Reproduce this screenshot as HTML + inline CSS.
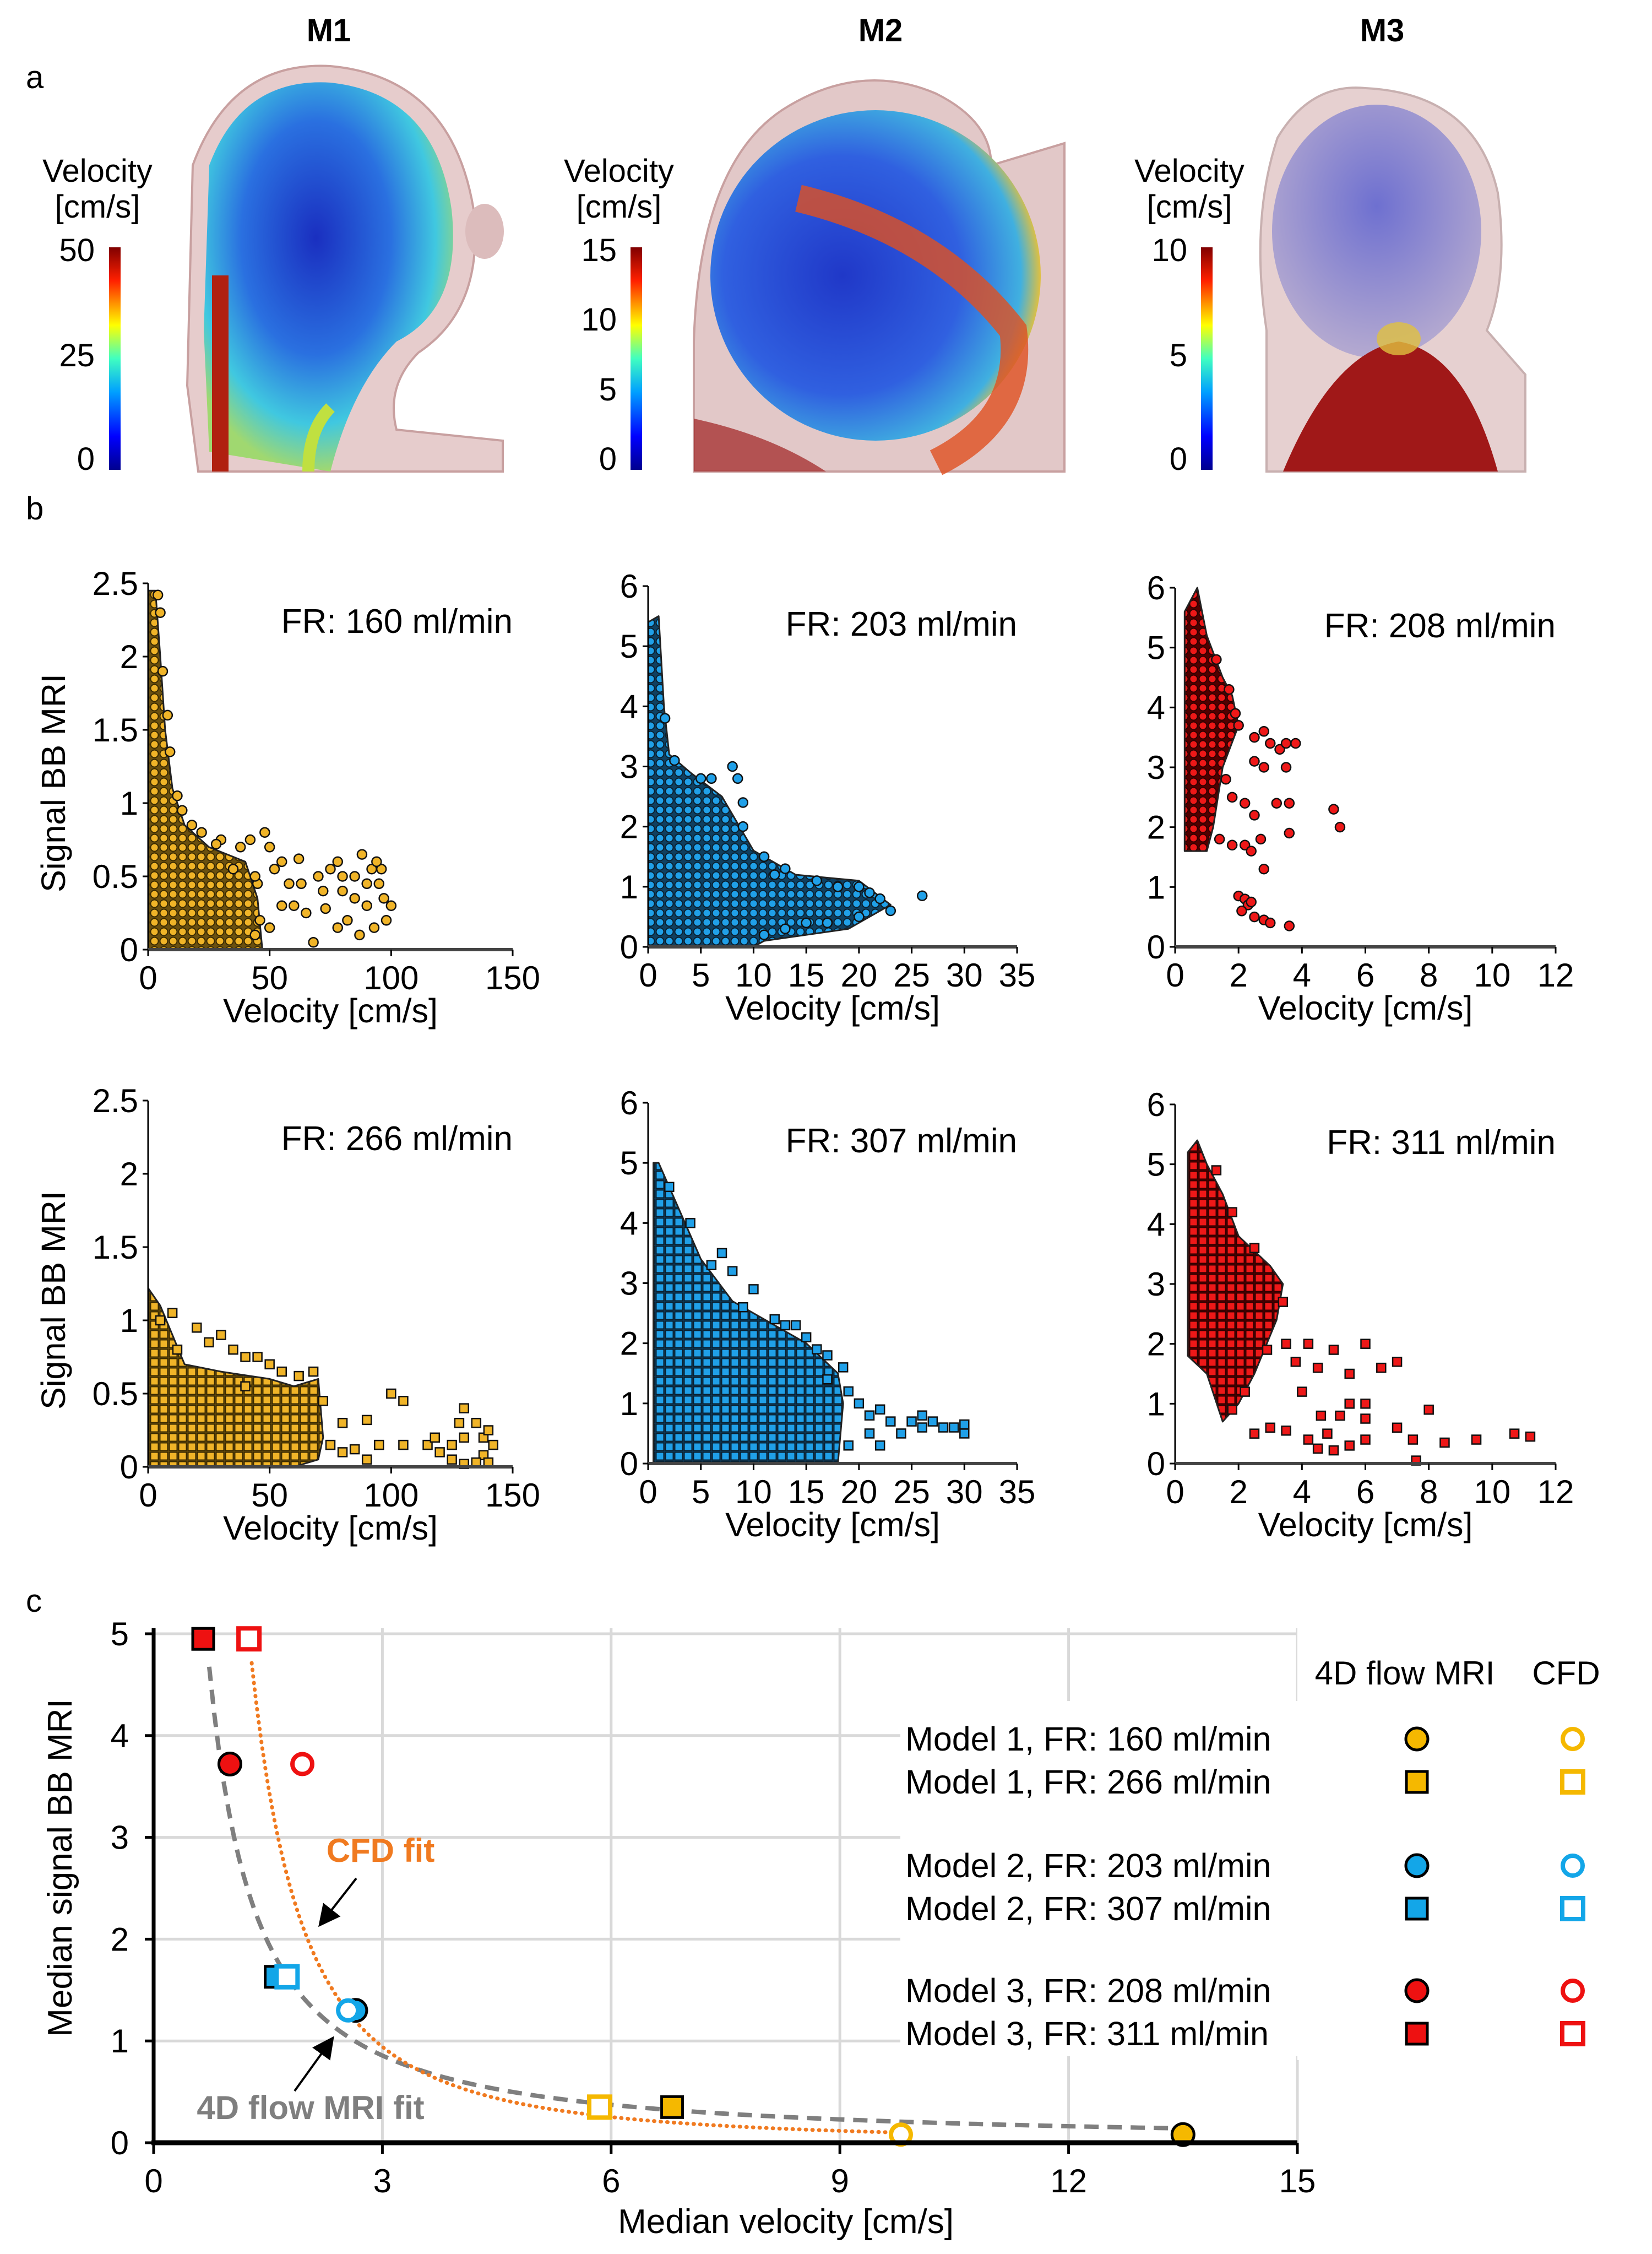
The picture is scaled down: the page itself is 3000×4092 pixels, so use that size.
<!DOCTYPE html>
<html><head><meta charset="utf-8"><style>
html,body{margin:0;padding:0;background:#fff;}
svg{display:block;font-family:"Liberation Sans",Arial,sans-serif;}
</style></head><body>
<svg id="fig" width="3000" height="4092" viewBox="0 0 3000 4092" xmlns="http://www.w3.org/2000/svg">
<defs>
<linearGradient id="jet" x1="0" y1="1" x2="0" y2="0">
<stop offset="0" stop-color="#00008f"/><stop offset="0.15" stop-color="#0000ff"/><stop offset="0.35" stop-color="#00a0ff"/><stop offset="0.5" stop-color="#40ffc0"/><stop offset="0.65" stop-color="#ffff00"/><stop offset="0.85" stop-color="#ff2000"/><stop offset="1" stop-color="#800000"/>
</linearGradient>
<radialGradient id="m1g" cx="0.45" cy="0.4" r="0.6"><stop offset="0" stop-color="#1a2fc0"/><stop offset="0.5" stop-color="#2a70e0"/><stop offset="0.8" stop-color="#40c8e0"/><stop offset="1" stop-color="#a0d870"/></radialGradient>
<radialGradient id="m2g" cx="0.4" cy="0.5" r="0.6"><stop offset="0" stop-color="#2038c8"/><stop offset="0.6" stop-color="#3060e0"/><stop offset="0.9" stop-color="#40b0e0"/><stop offset="1" stop-color="#e0c040"/></radialGradient>
<radialGradient id="m3g" cx="0.5" cy="0.4" r="0.6"><stop offset="0" stop-color="#5058d0"/><stop offset="1" stop-color="#a8a0d0"/></radialGradient>
<pattern id="patY" width="17" height="17" patternUnits="userSpaceOnUse"><rect width="17" height="17" fill="#6a5010"/><circle cx="8.5" cy="8.5" r="7" fill="#f0b428" stroke="#3a2a00" stroke-width="2"/></pattern>
<pattern id="patB" width="17" height="17" patternUnits="userSpaceOnUse"><rect width="17" height="17" fill="#104060"/><circle cx="8.5" cy="8.5" r="7" fill="#20a0e8" stroke="#0a2030" stroke-width="2"/></pattern>
<pattern id="patR" width="17" height="17" patternUnits="userSpaceOnUse"><rect width="17" height="17" fill="#500000"/><circle cx="8.5" cy="8.5" r="7" fill="#ee1818" stroke="#300000" stroke-width="2"/></pattern>
<pattern id="patYs" width="17" height="17" patternUnits="userSpaceOnUse"><rect width="17" height="17" fill="#6a5010"/><rect x="1.5" y="1.5" width="14" height="14" fill="#f0b428" stroke="#3a2a00" stroke-width="2"/></pattern>
<pattern id="patBs" width="17" height="17" patternUnits="userSpaceOnUse"><rect width="17" height="17" fill="#104060"/><rect x="1.5" y="1.5" width="14" height="14" fill="#20a0e8" stroke="#0a2030" stroke-width="2"/></pattern>
<pattern id="patRs" width="17" height="17" patternUnits="userSpaceOnUse"><rect width="17" height="17" fill="#500000"/><rect x="1.5" y="1.5" width="14" height="14" fill="#ee1818" stroke="#300000" stroke-width="2"/></pattern>
<marker id="arr" markerWidth="10" markerHeight="10" refX="8" refY="5" orient="auto" markerUnits="strokeWidth"><path d="M0,0 L10,5 L0,10 z" fill="#000"/></marker>
</defs>

<!-- Panel a -->
<g>
<text x="47" y="160" font-size="58">a</text>
<text x="597" y="75" font-size="58" font-weight="bold" text-anchor="middle">M1</text>
<text x="1599" y="75" font-size="58" font-weight="bold" text-anchor="middle">M2</text>
<text x="2510" y="75" font-size="58" font-weight="bold" text-anchor="middle">M3</text>

<g>
<path d="M360,856 L340,700 L350,300 Q420,110 600,120 Q820,140 860,380 Q880,560 760,640 Q700,700 720,780 L913,800 L913,856 Z" fill="#e6cccc" stroke="#c8a0a0" stroke-width="4"/>
<ellipse cx="880" cy="420" rx="35" ry="50" fill="#dcbcbc"/>
<path d="M380,820 L370,600 L380,300 Q440,140 600,150 Q790,170 820,380 Q840,560 720,620 Q640,700 600,856 Z" fill="url(#m1g)"/>
<path d="M400,856 L400,500" stroke="#b02010" stroke-width="30"/>
<path d="M560,856 Q560,780 600,740" stroke="#c0e040" stroke-width="22" fill="none"/>
</g>
<g>
<path d="M1260,856 L1260,620 Q1270,300 1420,200 Q1560,110 1700,170 Q1800,220 1800,300 L1933,260 L1933,856 Z" fill="#e2c8c8" stroke="#c8a0a0" stroke-width="4"/>
<ellipse cx="1590" cy="500" rx="300" ry="300" fill="url(#m2g)"/>
<path d="M1450,360 Q1700,420 1840,600 Q1860,760 1700,840" stroke="#e05020" stroke-width="50" fill="none" opacity="0.8"/>
<path d="M1260,856 L1260,760 Q1400,790 1500,856 Z" fill="#a02020" opacity="0.7"/>
</g>
<g>
<path d="M2300,856 L2300,600 Q2270,400 2320,250 Q2380,150 2480,160 Q2680,170 2720,350 Q2740,500 2700,600 L2770,680 L2770,856 Z" fill="#e6d0d0" stroke="#c8b0b0" stroke-width="4"/>
<ellipse cx="2500" cy="420" rx="190" ry="230" fill="url(#m3g)" opacity="0.8"/>
<path d="M2330,856 Q2420,640 2540,620 Q2660,640 2720,856 Z" fill="#a01818"/>
<ellipse cx="2540" cy="615" rx="40" ry="30" fill="#e0c040" opacity="0.8"/>
</g>

<g>
<text x="177" y="330" font-size="58" text-anchor="middle">Velocity</text>
<text x="177" y="395" font-size="58" text-anchor="middle">[cm/s]</text>
<rect x="198" y="449" width="21" height="404" fill="url(#jet)"/>
<text x="172" y="474" font-size="58" text-anchor="end">50</text>
<text x="172" y="665" font-size="58" text-anchor="end">25</text>
<text x="172" y="853" font-size="58" text-anchor="end">0</text>
</g>
<g>
<text x="1124" y="330" font-size="58" text-anchor="middle">Velocity</text>
<text x="1124" y="395" font-size="58" text-anchor="middle">[cm/s]</text>
<rect x="1145" y="449" width="21" height="404" fill="url(#jet)"/>
<text x="1120" y="474" font-size="58" text-anchor="end">15</text>
<text x="1120" y="600" font-size="58" text-anchor="end">10</text>
<text x="1120" y="727" font-size="58" text-anchor="end">5</text>
<text x="1120" y="853" font-size="58" text-anchor="end">0</text>
</g>
<g>
<text x="2160" y="330" font-size="58" text-anchor="middle">Velocity</text>
<text x="2160" y="395" font-size="58" text-anchor="middle">[cm/s]</text>
<rect x="2181" y="449" width="21" height="404" fill="url(#jet)"/>
<text x="2156" y="474" font-size="58" text-anchor="end">10</text>
<text x="2156" y="665" font-size="58" text-anchor="end">5</text>
<text x="2156" y="853" font-size="58" text-anchor="end">0</text>
</g>
</g>

<text x="47" y="943" font-size="58">b</text>
<g id="scatters"></g>

<text x="47" y="2926" font-size="58">c</text>
<g id="panelc"></g>
</svg>
<script>
// ---------- Panel b data ----------
const p1Env = [[0,0],[0,2.45],[3,2.45],[5,2.0],[7,1.5],[10,1.1],[15,0.85],[25,0.7],[40,0.6],[45,0.35],[47,0]];
const p1Pts = [[50,0.7],[48,0.8],[52,0.55],[55,0.6],[58,0.45],[62,0.62],[60,0.3],[65,0.25],[68,0.05],[70,0.5],[72,0.4],[75,0.55],[78,0.6],[80,0.4],[82,0.2],[85,0.5],[88,0.65],[90,0.3],[92,0.55],[95,0.45],[97,0.35],[100,0.3],[98,0.2],[93,0.15],[87,0.1],[78,0.15],[73,0.28],[96,0.55],[85,0.35],[90,0.45],[42,0.75],[38,0.7],[35,0.55],[30,0.75],[55,0.3],[50,0.15],[45,0.45],[63,0.45],[80,0.5],[94,0.6],[5,2.3],[4,2.42],[6,1.9],[8,1.6],[9,1.35],[12,1.05],[14,0.95],[18,0.85],[22,0.8],[28,0.72],[44,0.5],[46,0.2],[44,0.1]];
const p2Env = [[0,0],[0,5.4],[1,5.5],[1.5,4],[2,3.2],[4,2.9],[7,2.5],[10,1.6],[14,1.2],[20,1.1],[23,0.7],[19,0.3],[11,0.1],[10,0]];
const p2Pts = [[8,3.0],[8.5,2.8],[12,1.2],[16,1.1],[18,1.0],[20,1.0],[21,0.9],[22,0.8],[26,0.85],[23,0.6],[17,0.4],[20,0.5],[9,2.4],[6,2.8],[1.6,3.8],[2.5,3.1],[5,2.8],[9,2.0],[11,1.5],[13,1.3],[15,0.4],[13,0.3],[11,0.2]];
const p3Env = [[0.3,1.6],[0.3,5.6],[0.7,6.0],[1.0,5.2],[1.5,4.5],[1.8,4.2],[2,3.7],[1.5,3.0],[1.2,2.0],[1.0,1.6]];
const p3Pts = [[2.0,3.7],[2.5,3.5],[2.8,3.6],[3.0,3.4],[3.3,3.3],[3.5,3.4],[3.8,3.4],[2.5,3.1],[2.8,3.0],[3.5,3.0],[1.8,2.5],[2.2,2.4],[3.2,2.4],[3.6,2.4],[5.0,2.3],[5.2,2.0],[3.6,1.9],[2.5,2.2],[2.2,1.7],[2.7,1.8],[2.4,1.6],[2.8,1.3],[1.8,1.7],[2.0,0.85],[2.2,0.8],[2.3,0.7],[2.4,0.75],[2.5,0.5],[2.8,0.45],[3.0,0.4],[3.6,0.35],[2.1,0.6],[1.7,4.3],[1.9,3.9],[1.6,2.8],[1.4,1.8],[1.3,4.8]];
const p4Env = [[0,0],[0,1.22],[5,1.1],[10,0.9],[15,0.7],[30,0.65],[50,0.6],[60,0.55],[70,0.6],[72,0.2],[70,0.05],[60,0]];
const p4Pts = [[10,1.05],[20,0.95],[30,0.9],[35,0.8],[40,0.75],[45,0.75],[50,0.7],[55,0.65],[25,0.85],[40,0.55],[75,0.15],[80,0.1],[85,0.12],[90,0.05],[100,0.5],[105,0.45],[80,0.3],[90,0.32],[95,0.15],[105,0.15],[115,0.15],[120,0.1],[125,0.15],[128,0.3],[130,0.4],[130,0.2],[135,0.3],[138,0.2],[140,0.25],[138,0.08],[142,0.15],[130,0.02],[135,0.03],[140,0.03],[125,0.05],[118,0.2],[62,0.62],[68,0.65],[72,0.45],[12,0.8],[5,1.0]];
const p5Env = [[0.5,0],[0.5,5.0],[1,5],[3,4.2],[5,3.4],[8,2.7],[12,2.3],[15,2.0],[18,1.5],[18.5,1],[18,0]];
const p5Pts = [[7,3.5],[8,3.2],[10,2.9],[12,2.4],[13,2.3],[15,2.1],[16,1.9],[17,1.4],[18.5,1.6],[20,1.0],[21,0.8],[22,0.9],[23,0.7],[24,0.5],[25,0.7],[26,0.6],[27,0.7],[28,0.6],[29,0.6],[30,0.65],[30,0.5],[26,0.8],[21,0.5],[22,0.3],[2,4.6],[4,4.0],[6,3.3],[9,2.6],[14,2.3],[17,1.8],[19,1.2],[19,0.3]];
const p6Env = [[0.4,1.8],[0.4,5.2],[0.7,5.4],[1.0,5.0],[1.5,4.5],[2,3.8],[3,3.3],[3.4,3],[3.2,2.4],[2.5,1.5],[2,1.0],[1.5,0.7],[1.0,1.5]];
const p6Pts = [[3.5,2.0],[4.2,2.0],[5,1.9],[6,2.0],[3.8,1.7],[4.5,1.6],[5.5,1.5],[6.5,1.6],[7,1.7],[4.0,1.2],[5.5,1.0],[6.0,1.0],[4.6,0.8],[5.2,0.8],[6,0.75],[7,0.6],[8,0.9],[6,0.4],[7.5,0.4],[8.5,0.35],[9.5,0.4],[10.7,0.5],[11.2,0.45],[4.5,0.25],[5.0,0.22],[7.6,0.05],[2.5,0.5],[3,0.6],[3.5,0.55],[4.2,0.4],[4.8,0.5],[5.5,0.3],[1.3,4.9],[1.8,4.2],[2.5,3.6],[3.4,2.7],[2.9,1.9],[2.2,1.2],[1.8,0.9]];
const frLabels = ["FR: 160 ml/min","FR: 203 ml/min","FR: 208 ml/min","FR: 266 ml/min","FR: 307 ml/min","FR: 311 ml/min"];
const xTicks1 = [0,50,100,150], xTicks2=[0,5,10,15,20,25,30,35], xTicks3=[0,2,4,6,8,10,12];
const yTicks1 = [0,0.5,1,1.5,2,2.5], yTicks2=[0,1,2,3,4,5,6];

// ---------- Panel c data ----------
const cMriX = [13.5,6.8,2.65,1.6,1.0,0.65];
const cMriY = [0.08,0.35,1.3,1.63,3.72,4.95];
const cCfdX = [9.8,5.85,2.55,1.75,1.95,1.25];
const cCfdY = [0.08,0.35,1.3,1.63,3.72,4.95];
const cShapes = ["circle","square","circle","square","circle","square"];
const cColors = ["#f5b800","#f5b800","#13a6e8","#13a6e8","#ee1111","#ee1111"];
const legendLabels = ["Model 1, FR: 160 ml/min","Model 1, FR: 266 ml/min","Model 2, FR: 203 ml/min","Model 2, FR: 307 ml/min","Model 3, FR: 208 ml/min","Model 3, FR: 311 ml/min"];
const mriFit = [3.2,-1.2];   // a, b  (y = a x^b)
const cfdFit = [7.6,-1.9];
const cXTicks = [0,3,6,9,12,15], cYTicks=[0,1,2,3,4,5];

const NS="http://www.w3.org/2000/svg";
function mk(tag, attrs, parent){const e=document.createElementNS(NS,tag);for(const k in attrs)e.setAttribute(k,attrs[k]);parent.appendChild(e);return e;}

const sc = document.getElementById('scatters');
const panels = [
 {env:p1Env,pts:p1Pts,x0:269,x1:931,y0:1724,y1:1059,xmax:150,ymax:2.5,xt:xTicks1,yt:yTicks1,fill:'#f0b428',pat:'patY',sq:false,fr:0,ytitle:true},
 {env:p2Env,pts:p2Pts,x0:1177,x1:1847,y0:1719,y1:1064,xmax:35,ymax:6,xt:xTicks2,yt:yTicks2,fill:'#20a0e8',pat:'patB',sq:false,fr:1},
 {env:p3Env,pts:p3Pts,x0:2134,x1:2825,y0:1719,y1:1067,xmax:12,ymax:6,xt:xTicks3,yt:yTicks2,fill:'#ee1818',pat:'patR',sq:false,fr:2},
 {env:p4Env,pts:p4Pts,x0:269,x1:931,y0:2663,y1:1998,xmax:150,ymax:2.5,xt:xTicks1,yt:yTicks1,fill:'#f0b428',pat:'patYs',sq:true,fr:3,ytitle:true},
 {env:p5Env,pts:p5Pts,x0:1177,x1:1847,y0:2657,y1:2002,xmax:35,ymax:6,xt:xTicks2,yt:yTicks2,fill:'#20a0e8',pat:'patBs',sq:true,fr:4},
 {env:p6Env,pts:p6Pts,x0:2134,x1:2825,y0:2657,y1:2005,xmax:12,ymax:6,xt:xTicks3,yt:yTicks2,fill:'#ee1818',pat:'patRs',sq:true,fr:5}
];
panels.forEach((p,i)=>{
  const g=mk('g',{},sc);
  
  
  const X=v=>p.x0+(p.x1-p.x0)*v/p.xmax, Y=v=>p.y0-(p.y0-p.y1)*v/p.ymax;
  const poly=mk('polygon',{points:p.env.map(q=>X(q[0])+','+Y(q[1])).join(' '),fill:'url(#'+p.pat+')',stroke:'#222','stroke-width':3,'stroke-linejoin':'round'},g);
  
  
  p.pts.forEach(q=>{
    let m;
    if(p.sq) m=mk('rect',{x:X(q[0])-8,y:Y(q[1])-8,width:16,height:16,fill:p.fill,stroke:'#111','stroke-width':2.5},g);
    else m=mk('circle',{cx:X(q[0]),cy:Y(q[1]),r:8.5,fill:p.fill,stroke:'#111','stroke-width':2.5},g);
    
    
  });
  const ya=mk('line',{x1:p.x0,y1:p.y0,x2:p.x0,y2:p.y1,stroke:'#000','stroke-width':3},g);
  
  
  const xa=mk('line',{x1:p.x0,y1:p.y0,x2:p.x1,y2:p.y0,stroke:'#444','stroke-width':6},g);
  
  
  p.xt.forEach(t=>{
    mk('line',{x1:X(t),y1:p.y0,x2:X(t),y2:p.y0+12,stroke:'#000','stroke-width':3},g);
    const tx=mk('text',{x:X(t),y:p.y0+72,'font-size':60,'text-anchor':'middle'},g);tx.textContent=t;
    
    
  });
  p.yt.forEach(t=>{
    mk('line',{x1:p.x0-10,y1:Y(t),x2:p.x0,y2:Y(t),stroke:'#000','stroke-width':3},g);
    const tx=mk('text',{x:p.x0-18,y:Y(t)+21,'font-size':60,'text-anchor':'end'},g);tx.textContent=t;
    
    
  });
  const xt=mk('text',{x:(p.x0+p.x1)/2,y:p.y0+132,'font-size':61,'text-anchor':'middle'},g);xt.textContent='Velocity [cm/s]';
  
  
  const fr=mk('text',{x:p.x1,y:p.y1+90,'font-size':62,'text-anchor':'end'},g);fr.textContent=frLabels[p.fr];
  
  
  if(p.ytitle){
    const cy=(p.y0+p.y1)/2+30;
    const yt=mk('text',{x:0,y:0,'font-size':61,'text-anchor':'middle',transform:'translate(118,'+cy+') rotate(-90)'},g);yt.textContent='Signal BB MRI';
    
    
  }
});

// ---------- Panel c ----------
const pc=document.getElementById('panelc');
const cx0=279,cx1=2356,cy0=3890,cy1=2966;
const CX=v=>cx0+(cx1-cx0)*v/15, CY=v=>cy0-(cy0-cy1)*v/5;
cXTicks.forEach(t=>{ if(t>0){const l=mk('line',{x1:CX(t),y1:cy0,x2:CX(t),y2:cy1-10,stroke:'#d9d9d9','stroke-width':5},pc);
  
  }});
cYTicks.forEach(t=>{ if(t>0){const l=mk('line',{x1:cx0,y1:CY(t),x2:cx1,y2:CY(t),stroke:'#d9d9d9','stroke-width':5},pc);
  
  }});
const lbg=mk('rect',{x:1635,y:3088,width:1365,height:645,fill:'#fff'},pc);


mk('rect',{x:2356,y:2940,width:644,height:800,fill:'#fff'},pc);
function curve(fit,xs,xe){const d=[];for(let k=0;k<=200;k++){const x=xs+(xe-xs)*k/200;let y=fit[0]*Math.pow(x,fit[1]);if(y>5)continue;d.push((d.length?'L':'M')+CX(x).toFixed(1)+','+CY(y).toFixed(1));}return d.join(' ');}
const f1=mk('path',{d:curve(mriFit,0.6,13.5),fill:'none',stroke:'#7f7f7f','stroke-width':8,'stroke-dasharray':'26,16'},pc);


const f2=mk('path',{d:curve(cfdFit,1.2,9.8),fill:'none',stroke:'#f07a20','stroke-width':7,'stroke-dasharray':'1,11','stroke-linecap':'round'},pc);


function marker(shape,x,y,col,filled,parent){
  let m;
  if(shape==='circle') m=mk('circle',{cx:x,cy:y,r:filled?20:18,fill:filled?col:'#fff',stroke:filled?'#000':col,'stroke-width':filled?5:8},parent);
  else m=mk('rect',{x:x-19,y:y-19,width:38,height:38,fill:filled?col:'#fff',stroke:filled?'#000':col,'stroke-width':filled?5:8},parent);
  return m;
}
cMriX.forEach((v,i)=>{const m=marker(cShapes[i],CX(v),CY(cMriY[i]),cColors[i],true,pc);
  
  });
cCfdX.forEach((v,i)=>{const m=marker(cShapes[i],CX(v),CY(cCfdY[i]),cColors[i],false,pc);
  
  });
const cya=mk('line',{x1:cx0,y1:cy0+4,x2:cx0,y2:cy1-10,stroke:'#000','stroke-width':7},pc);


const cxa=mk('line',{x1:cx0-4,y1:cy0,x2:cx1,y2:cy0,stroke:'#000','stroke-width':9},pc);


cXTicks.forEach(t=>{mk('line',{x1:CX(t),y1:cy0,x2:CX(t),y2:cy0+20,stroke:'#000','stroke-width':5},pc);
  const tx=mk('text',{x:CX(t),y:cy0+90,'font-size':60,'text-anchor':'middle'},pc);tx.textContent=t;
  
  });
cYTicks.forEach(t=>{mk('line',{x1:cx0-16,y1:CY(t),x2:cx0,y2:CY(t),stroke:'#000','stroke-width':5},pc);
  const tx=mk('text',{x:cx0-45,y:CY(t)+21,'font-size':60,'text-anchor':'end'},pc);tx.textContent=t;
  
  });
const cxt=mk('text',{x:1427,y:4054,'font-size':62,'text-anchor':'middle'},pc);cxt.textContent='Median velocity [cm/s]';


const cyt=mk('text',{x:0,y:0,'font-size':62,'text-anchor':'middle',transform:'translate(130,3391) rotate(-90)'},pc);cyt.textContent='Median signal BB MRI';


// annotations
const a1=mk('text',{x:691,y:3380,'font-size':60,'font-weight':'bold','text-anchor':'middle',fill:'#f07a20'},pc);a1.textContent='CFD fit';


const ar1=mk('line',{x1:647,y1:3410,x2:583,y2:3492,stroke:'#000','stroke-width':4,'marker-end':'url(#arr)'},pc);


const a2=mk('text',{x:564,y:3847,'font-size':60,'font-weight':'bold','text-anchor':'middle',fill:'#7f7f7f'},pc);a2.textContent='4D flow MRI fit';


const ar2=mk('line',{x1:535,y1:3796,x2:602,y2:3703,stroke:'#000','stroke-width':4,'marker-end':'url(#arr)'},pc);


// legend
const lh1=mk('text',{x:2551,y:3058,'font-size':60,'text-anchor':'middle'},pc);lh1.textContent='4D flow MRI';


const lh2=mk('text',{x:2844,y:3058,'font-size':60,'text-anchor':'middle'},pc);lh2.textContent='CFD';


const legY=[3157,3235,3387,3465,3614,3692];
legendLabels.forEach((s,i)=>{
  const t=mk('text',{x:1644,y:legY[i]+21,'font-size':61},pc);t.textContent=s;
  
  
  const m1=marker(cShapes[i],2573,legY[i],cColors[i],true,pc);
  
  
  const m2=marker(cShapes[i],2856,legY[i],cColors[i],false,pc);
  
  
});
</script>
</body></html>
